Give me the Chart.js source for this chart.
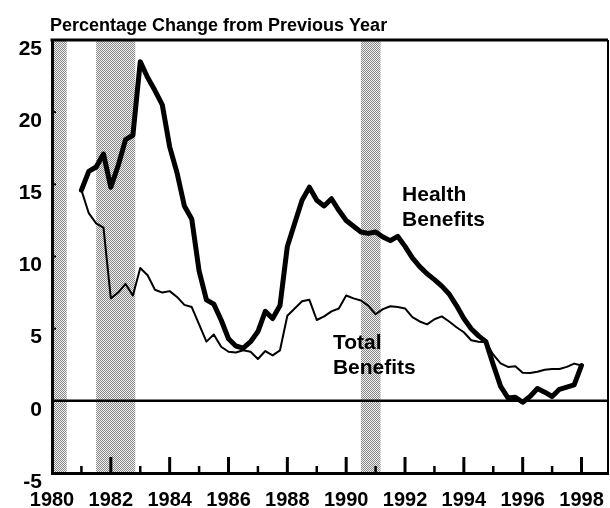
<!DOCTYPE html>
<html>
<head>
<meta charset="utf-8">
<script src="https://cdn.jsdelivr.net/npm/chart.js@4.4.1/dist/chart.umd.min.js"></script>
<style>
  html, body { margin: 0; padding: 0; background: #fff; overflow: hidden; }
  #wrap { width: 610px; height: 508px; position: relative; }
</style>
</head>
<body>
<div id="wrap"><canvas id="benefitsChart"></canvas></div>
<script>
// Quarterly series, first point = 1981 Q1
const firstYear = 1981;
const healthBenefits = [
    14.6, 15.9, 16.2, 17.1, 14.8, 16.3, 18.1, 18.4, 23.5, 22.4,
    21.5, 20.5, 17.6, 15.8, 13.5, 12.6, 9.0, 7.0, 6.7, 5.6,
    4.3, 3.8, 3.65, 4.1, 4.8, 6.2, 5.7, 6.6, 10.7, 12.3,
    13.9, 14.8, 13.9, 13.5, 14.0, 13.2, 12.5, 12.1, 11.7, 11.6,
    11.7, 11.35, 11.1, 11.4, 10.7, 9.9, 9.3, 8.8, 8.4, 7.95,
    7.4, 6.6, 5.7, 5.0, 4.5, 4.1, 2.5, 1.0, 0.2, 0.25,
    -0.1, 0.3, 0.85, 0.6, 0.3, 0.8, 0.95, 1.1, 2.45
];
const totalBenefits = [
    14.6, 13.0, 12.3, 12.0, 7.1, 7.5, 8.1, 7.3, 9.2, 8.7,
    7.7, 7.5, 7.6, 7.2, 6.65, 6.5, 5.3, 4.1, 4.6, 3.75,
    3.4, 3.35, 3.5, 3.4, 2.9, 3.45, 3.15, 3.5, 5.9, 6.4,
    6.9, 7.0, 5.6, 5.85, 6.2, 6.4, 7.3, 7.1, 6.95, 6.6,
    6.0, 6.35, 6.55, 6.5, 6.4, 5.8, 5.5, 5.3, 5.65, 5.85,
    5.5, 5.1, 4.75, 4.2, 4.1, 4.05, 3.2, 2.6, 2.35, 2.4,
    1.95, 1.93, 2.02, 2.15, 2.2, 2.2, 2.35, 2.58, 2.45
];
// Recession periods (shaded)
const recessionStarts = [1980.0, 1981.5, 1990.5];
const recessionEnds = [1980.5, 1982.83, 1991.17];
const yearTicks = [1980, 1981, 1982, 1983, 1984, 1985, 1986, 1987, 1988, 1989,
    1990, 1991, 1992, 1993, 1994, 1995, 1996, 1997, 1998];
const valueTicks = [-5, 0, 5, 10, 15, 20, 25];

const quarterDates = healthBenefits.map((v, i) => firstYear + i / 4);
const FONT = '"Liberation Sans", Arial, Helvetica, sans-serif';

Chart.defaults.font.family = FONT;
Chart.defaults.color = '#000';

function makeShade(ctx) {
    const c = document.createElement('canvas');
    c.width = 2;
    c.height = 2;
    const g = c.getContext('2d');
    g.fillStyle = '#f0f0f0';
    g.fillRect(0, 0, 2, 2);
    g.fillStyle = '#888888';
    g.fillRect(0, 0, 1, 1);
    g.fillRect(1, 1, 1, 1);
    return ctx.createPattern(c, 'repeat');
}

const chartDecor = {
    id: 'chartDecor',
    beforeDraw(chart) {
        const { ctx, chartArea: a, scales: { x, y } } = chart;
        ctx.save();
        // recession bands
        ctx.fillStyle = makeShade(ctx);
        recessionStarts.forEach((s, i) => {
            const x0 = x.getPixelForValue(s);
            const x1 = x.getPixelForValue(recessionEnds[i]);
            ctx.fillRect(x0, a.top, x1 - x0, a.bottom - a.top);
        });
        // zero line
        const y0 = y.getPixelForValue(0);
        ctx.strokeStyle = '#000';
        ctx.lineWidth = 2.5;
        ctx.beginPath();
        ctx.moveTo(a.left, y0);
        ctx.lineTo(a.right, y0);
        ctx.stroke();
        // inward year ticks
        yearTicks.forEach(yr => {
            if (yr === 1980) return;
            const px = x.getPixelForValue(yr);
            const major = yr % 2 === 0;
            ctx.lineWidth = major ? 3 : 2.5;
            ctx.beginPath();
            ctx.moveTo(px, a.bottom);
            ctx.lineTo(px, a.bottom - (major ? 16 : 7));
            ctx.stroke();
        });
        // small inward value ticks
        valueTicks.forEach(v => {
            if (v <= 0 || v >= 25) return;
            const py = y.getPixelForValue(v);
            ctx.lineWidth = 2;
            ctx.beginPath();
            ctx.moveTo(a.left, py);
            ctx.lineTo(a.left + 4, py);
            ctx.stroke();
        });
        ctx.restore();
    },
    afterDraw(chart) {
        const { ctx, chartArea: a, scales: { x, y } } = chart;
        ctx.save();
        // top and right frame
        ctx.strokeStyle = '#000';
        ctx.lineWidth = 3;
        ctx.beginPath();
        ctx.moveTo(a.left - 1.5, a.top);
        ctx.lineTo(a.right, a.top);
        ctx.stroke();
        ctx.lineWidth = 2;
        ctx.beginPath();
        ctx.moveTo(a.right, a.top);
        ctx.lineTo(a.right, a.bottom);
        ctx.stroke();

        // title
        ctx.fillStyle = '#000';
        ctx.textAlign = 'left';
        ctx.textBaseline = 'alphabetic';
        ctx.font = 'bold 18px ' + FONT;
        ctx.fillText('Percentage Change from Previous Year', a.left - 2, 31);

        // series labels
        ctx.font = 'bold 21px ' + FONT;
        ctx.textBaseline = 'middle';
        let lx = x.getPixelForValue(1991.9);
        let ly = y.getPixelForValue(14.26);
        ctx.fillText('Health', lx, ly);
        ctx.fillText('Benefits', lx, ly + 25);
        lx = x.getPixelForValue(1989.55);
        ly = y.getPixelForValue(4.0);
        ctx.fillText('Total', lx, ly);
        ctx.fillText('Benefits', lx, ly + 25);
        ctx.restore();
    }
};

new Chart(document.getElementById('benefitsChart'), {
    type: 'line',
    data: {
        datasets: [
            {
                label: 'Health Benefits',
                data: quarterDates.map((t, i) => ({ x: t, y: healthBenefits[i] })),
                borderColor: '#000',
                borderWidth: 5,
                borderJoinStyle: 'round',
                borderCapStyle: 'round',
                pointRadius: 0,
                tension: 0
            },
            {
                label: 'Total Benefits',
                data: quarterDates.map((t, i) => ({ x: t, y: totalBenefits[i] })),
                borderColor: '#000',
                borderWidth: 2,
                borderJoinStyle: 'round',
                pointRadius: 0,
                tension: 0
            }
        ]
    },
    options: {
        responsive: true,
        maintainAspectRatio: false,
        animation: false,
        layout: { padding: { top: 40, right: 2, left: 0, bottom: 0 } },
        plugins: {
            legend: { display: false },
            tooltip: { enabled: false },
            title: { display: false }
        },
        scales: {
            x: {
                type: 'linear',
                min: 1980,
                max: 1998.9,
                afterFit: s => {
                    s.height = 35;
                    s.paddingLeft = 0;
                    s.paddingRight = 0;
                },
                grid: { display: false, drawTicks: false },
                border: { display: true, color: '#000', width: 3 },
                ticks: {
                    stepSize: 2,
                    includeBounds: false,
                    autoSkip: false,
                    maxRotation: 0,
                    padding: 15,
                    color: '#000',
                    font: { size: 20, weight: 'bold' },
                    callback: v => String(v)
                }
            },
            y: {
                min: -5,
                max: 25,
                afterFit: s => { s.width = 52; },
                grid: { display: false, drawTicks: false },
                border: { display: true, color: '#000', width: 3 },
                ticks: {
                    stepSize: 5,
                    padding: 10,
                    labelOffset: 9,
                    color: '#000',
                    font: { size: 21, weight: 'bold' }
                }
            }
        }
    },
    plugins: [chartDecor]
});
</script>
</body>
</html>
